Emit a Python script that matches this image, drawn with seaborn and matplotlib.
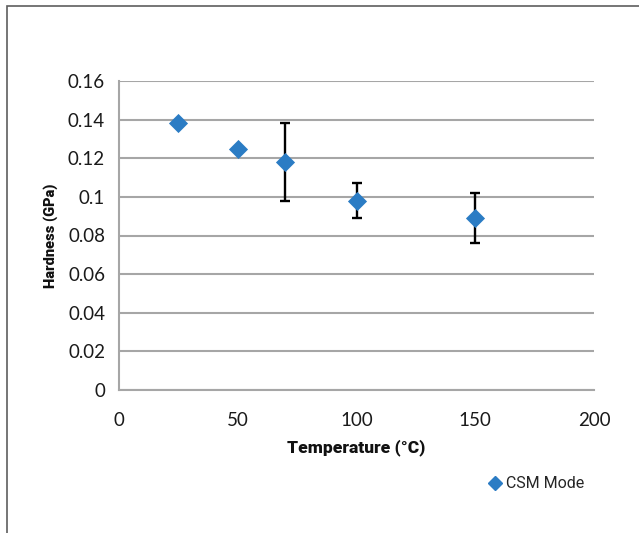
import numpy as np
import pandas as pd
import seaborn as sns
import matplotlib.pyplot as plt
from matplotlib.patches import Rectangle
from matplotlib.lines import Line2D

# valors llegits de la figura
temperature = [25, 50, 70, 100, 150]
hardness = [0.138, 0.125, 0.118, 0.098, 0.089]
err_low = [0.0, 0.0, 0.020, 0.009, 0.013]
err_high = [0.0, 0.0, 0.020, 0.009, 0.013]
x_ticks = [0, 50, 100, 150, 200]
y_ticks = [0, 0.02, 0.04, 0.06, 0.08, 0.1, 0.12, 0.14, 0.16]
y_labels = ["0", "0.02", "0.04", "0.06", "0.08", "0.1", "0.12", "0.14", "0.16"]

df = pd.DataFrame({"Temperature": temperature, "Hardness": hardness})

sns.set_style("white")
plt.rcParams["font.family"] = ["Lato", "DejaVu Sans"]

blue = "#2b7cc4"
grid_col = "#a6a6a6"

fig = plt.figure(figsize=(6.39, 5.33), dpi=100)
ax = fig.add_axes([119 / 639, 1 - 390 / 533, 475 / 639, 309 / 533])

# marc exterior
fig.patches.append(Rectangle((7 / 639, -0.05), 1.1, 1 - 6 / 533 + 0.05,
                             transform=fig.transFigure, fill=False,
                             edgecolor="#5e5e5e", linewidth=1.2))

# barres d'error (només on n'hi ha)
mask = np.array(err_high) > 0
ax.errorbar(np.array(temperature)[mask], np.array(hardness)[mask],
            yerr=[np.array(err_low)[mask], np.array(err_high)[mask]],
            fmt="none", ecolor="black", elinewidth=1.7, capsize=3.8, capthick=1.7,
            zorder=3)

sns.scatterplot(data=df, x="Temperature", y="Hardness", marker="D", s=95,
                color=blue, edgecolor=blue, linewidth=0, ax=ax, zorder=4)

ax.set_xlim(0, 200)
ax.set_ylim(0, 0.16)
ax.set_xticks(x_ticks)
ax.set_yticks(y_ticks)
ax.set_yticklabels(y_labels)
ax.tick_params(axis="both", labelsize=13.5, colors="#a6a6a6", labelcolor="#1a1a1a",
               length=5, width=1.2, direction="out")
ax.tick_params(axis="x", pad=11)
ax.tick_params(axis="y", pad=5)

ax.yaxis.grid(True, color=grid_col, linewidth=1.5)
ax.set_axisbelow(True)
for side in ["top", "right"]:
    ax.spines[side].set_visible(False)
for side in ["left", "bottom"]:
    ax.spines[side].set_color(grid_col)
    ax.spines[side].set_linewidth(1.5)

lab_font = dict(family=["Roboto", "DejaVu Sans"], fontweight="heavy", color="#111111")
ax.set_xlabel("Temperature (°C)", labelpad=7, fontsize=12.5, **lab_font)
ax.set_ylabel("Hardness (GPa)", labelpad=7, fontsize=10.5, **lab_font)

# llegenda
handle = Line2D([], [], marker="D", linestyle="none", color=blue, markersize=7.5)
fig.legend([handle], ["CSM Mode"], loc="center left",
           bbox_to_anchor=(474 / 639, 1 - 484 / 533), frameon=False,
           handlelength=0.8, handletextpad=0.3,
           prop=dict(family=["Roboto", "DejaVu Sans"], size=11.5))

fig.savefig("out.png", dpi=100)
